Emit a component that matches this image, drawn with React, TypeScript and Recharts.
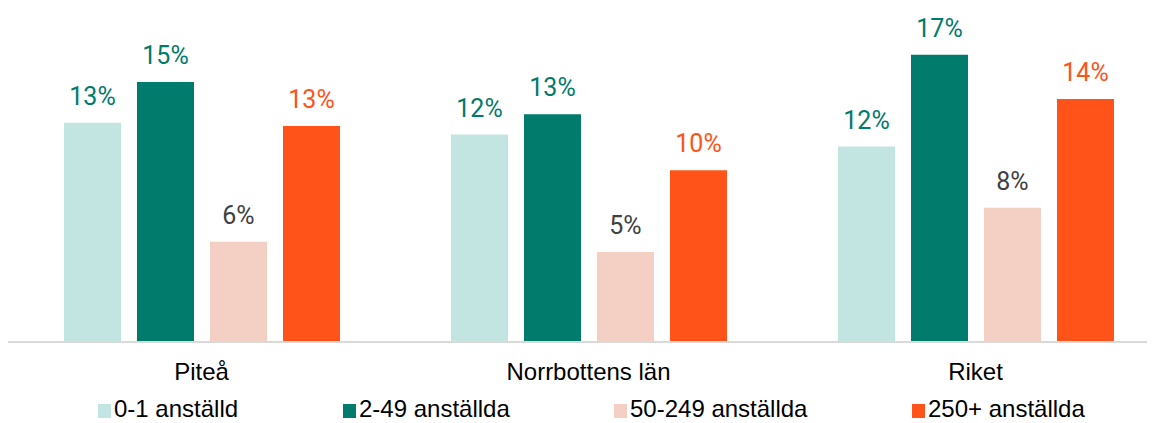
import React from 'react';
import { BarChart, Bar, XAxis, YAxis, LabelList, Legend } from 'recharts';

// ---- data ----
const categories = ['Piteå', 'Norrbottens län', 'Riket'];
const seriesNames = ['0-1 anställd', '2-49 anställda', '50-249 anställda', '250+ anställda'];
const values01 = [12.9, 12.2, 11.5];
const values249 = [15.3, 13.4, 16.9];
const values50249 = [5.9, 5.3, 7.9];
const values250 = [12.7, 10.1, 14.3];

// ---- styles ----
const barColors = ['#C3E5E1', '#007B6C', '#F4D0C4', '#FF5319'];
const labelColors = ['#007A6B', '#007A6B', '#404040', '#FF5319'];
const legendLeft = [90, 335, 606, 904];
const keys = ['s0', 's1', 's2', 's3'];

const data = categories.map((name, i) => ({
  name,
  s0: values01[i],
  s1: values249[i],
  s2: values50249[i],
  s3: values250[i],
}));

const fmt = (v: any) => `${Math.round(Number(v))}%`;

const LegendContent = () => (
  <div style={{ position: 'relative', width: 1161, height: 41 }}>
    {seriesNames.map((n, i) => (
      <div key={n} style={{ position: 'absolute', left: legendLeft[i], top: 0, height: 41 }}>
        <div
          style={{
            position: 'absolute',
            left: 0,
            top: 22,
            width: 13,
            height: 14,
            background: barColors[i],
          }}
        />
        <div
          style={{
            position: 'absolute',
            left: 16,
            top: 18,
            whiteSpace: 'nowrap',
            fontFamily: '"Liberation Sans", Arial, sans-serif',
            fontSize: 24,
            lineHeight: '18px',
            color: '#000',
          }}
        >
          {n}
        </div>
      </div>
    ))}
  </div>
);

export default function App() {
  return (
    <div style={{ width: 1147, height: 415, overflow: 'hidden' }}>
      <BarChart
        width={1161}
        height={415}
        data={data}
        margin={{ top: 11, right: 0, bottom: 0, left: 0 }}
        barSize={57}
        barGap={16}
      >
        <XAxis
          dataKey="name"
          axisLine={{ stroke: '#D9D9D9', strokeWidth: 2 }}
          tickLine={false}
          tickSize={6}
          tickMargin={15}
          height={40}
          interval={0}
          tick={{ fill: '#000', fontSize: 24, fontFamily: '"Liberation Sans", Arial, sans-serif' }}
        />
        <YAxis hide domain={[0, 19]} />
        <Legend verticalAlign="bottom" content={<LegendContent />} />
        {keys.map((k, i) => (
          <Bar key={k} dataKey={k} name={seriesNames[i]} fill={barColors[i]} isAnimationActive={false}>
            <LabelList
              dataKey={k}
              position="top"
              offset={18}
              formatter={fmt}
              style={{ fill: labelColors[i], fontSize: 25, fontFamily: 'Roboto, sans-serif' }}
            />
          </Bar>
        ))}
      </BarChart>
    </div>
  );
}
